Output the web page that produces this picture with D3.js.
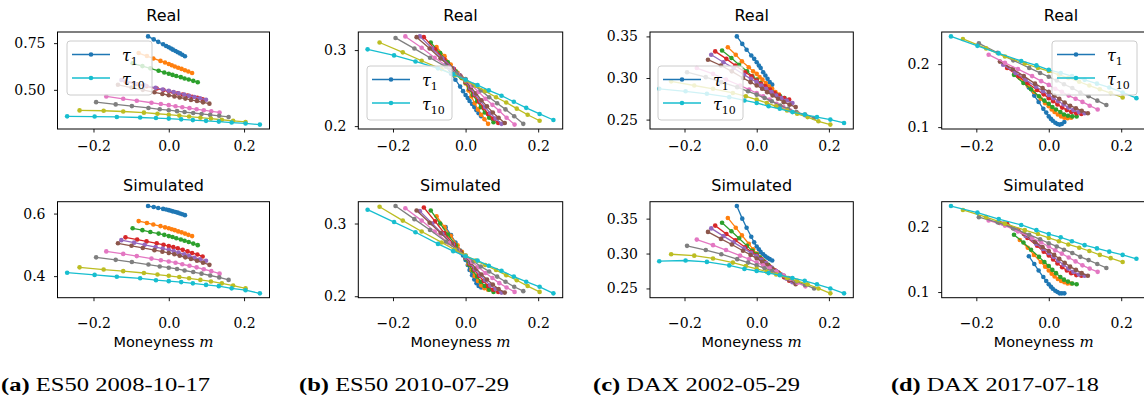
<!DOCTYPE html>
<html>
<head>
<meta charset="utf-8">
<script src="https://cdn.jsdelivr.net/npm/d3@7"></script>
<style>
  body { margin: 0; background: #fff; }
</style>
</head>
<body>
<svg id="fig" width="1144" height="411"></svg>
<script>
// moneyness grid, one row per maturity tau1..tau10
var moneyness = [
  [-0.055, -0.040, -0.028, -0.015, -0.007, 0, 0.006, 0.011, 0.018, 0.024, 0.030, 0.036, 0.043],
  [-0.080, -0.058, -0.041, -0.022, -0.010, 0, 0.008, 0.016, 0.025, 0.034, 0.043, 0.052, 0.062],
  [-0.096, -0.070, -0.049, -0.027, -0.012, 0, 0.010, 0.020, 0.032, 0.042, 0.053, 0.065, 0.077],
  [-0.115, -0.084, -0.059, -0.032, -0.014, 0, 0.012, 0.024, 0.037, 0.050, 0.062, 0.076, 0.090],
  [-0.126, -0.092, -0.064, -0.035, -0.016, 0, 0.013, 0.026, 0.041, 0.054, 0.068, 0.083, 0.099],
  [-0.135, -0.099, -0.069, -0.038, -0.017, 0, 0.015, 0.029, 0.044, 0.059, 0.075, 0.091, 0.108],
  [-0.166, -0.121, -0.085, -0.046, -0.021, 0, 0.018, 0.036, 0.055, 0.074, 0.093, 0.113, 0.135],
  [-0.193, -0.141, -0.098, -0.054, -0.024, 0, 0.022, 0.042, 0.065, 0.087, 0.110, 0.134, 0.159],
  [-0.237, -0.173, -0.121, -0.066, -0.030, 0, 0.028, 0.054, 0.084, 0.112, 0.141, 0.171, 0.204],
  [-0.270, -0.197, -0.138, -0.076, -0.034, 0, 0.033, 0.064, 0.099, 0.133, 0.167, 0.204, 0.242]
];

// implied vols, (a) ES50 2008-10-17
var ivRealA = [
  [0.786, 0.770, 0.757, 0.744, 0.735, 0.728, 0.721, 0.715, 0.708, 0.701, 0.695, 0.688, 0.680],
  [0.697, 0.681, 0.668, 0.655, 0.646, 0.638, 0.632, 0.625, 0.618, 0.612, 0.605, 0.598, 0.590],
  [0.642, 0.627, 0.615, 0.602, 0.593, 0.586, 0.580, 0.574, 0.568, 0.561, 0.555, 0.548, 0.541],
  [0.544, 0.530, 0.519, 0.507, 0.499, 0.492, 0.487, 0.481, 0.475, 0.469, 0.463, 0.457, 0.450],
  [0.553, 0.537, 0.524, 0.511, 0.502, 0.495, 0.488, 0.482, 0.475, 0.468, 0.462, 0.455, 0.447],
  [0.527, 0.512, 0.500, 0.487, 0.478, 0.471, 0.465, 0.459, 0.453, 0.446, 0.440, 0.433, 0.426],
  [0.465, 0.452, 0.442, 0.431, 0.424, 0.418, 0.412, 0.407, 0.402, 0.396, 0.391, 0.385, 0.379],
  [0.434, 0.422, 0.413, 0.403, 0.396, 0.391, 0.386, 0.381, 0.376, 0.371, 0.366, 0.361, 0.355],
  [0.390, 0.388, 0.384, 0.378, 0.372, 0.367, 0.362, 0.357, 0.351, 0.346, 0.340, 0.334, 0.328],
  [0.358, 0.357, 0.355, 0.352, 0.349, 0.346, 0.342, 0.338, 0.334, 0.330, 0.325, 0.320, 0.314]
];
var ivSimA = [
  [0.624, 0.621, 0.618, 0.615, 0.613, 0.611, 0.609, 0.607, 0.605, 0.603, 0.600, 0.598, 0.595],
  [0.576, 0.570, 0.565, 0.560, 0.556, 0.553, 0.550, 0.547, 0.543, 0.540, 0.536, 0.532, 0.528],
  [0.553, 0.547, 0.541, 0.536, 0.532, 0.528, 0.525, 0.521, 0.517, 0.513, 0.509, 0.504, 0.499],
  [0.524, 0.517, 0.511, 0.505, 0.500, 0.496, 0.493, 0.489, 0.484, 0.479, 0.474, 0.469, 0.463],
  [0.515, 0.507, 0.500, 0.493, 0.488, 0.484, 0.480, 0.475, 0.470, 0.465, 0.459, 0.454, 0.449],
  [0.505, 0.497, 0.490, 0.483, 0.478, 0.474, 0.470, 0.465, 0.460, 0.455, 0.449, 0.443, 0.436],
  [0.479, 0.471, 0.464, 0.456, 0.451, 0.447, 0.443, 0.438, 0.433, 0.428, 0.422, 0.416, 0.408],
  [0.460, 0.452, 0.445, 0.437, 0.431, 0.427, 0.423, 0.418, 0.413, 0.408, 0.402, 0.396, 0.388],
  [0.428, 0.421, 0.416, 0.410, 0.405, 0.401, 0.397, 0.393, 0.388, 0.383, 0.377, 0.370, 0.361],
  [0.411, 0.404, 0.398, 0.393, 0.387, 0.384, 0.381, 0.377, 0.372, 0.368, 0.361, 0.355, 0.345]
];

// (b) ES50 2010-07-29
var ivRealB = [
  [0.280, 0.269, 0.261, 0.252, 0.246, 0.241, 0.237, 0.233, 0.229, 0.225, 0.221, 0.217, 0.213],
  [0.304, 0.292, 0.281, 0.270, 0.263, 0.256, 0.247, 0.239, 0.230, 0.222, 0.215, 0.209, 0.203],
  [0.310, 0.296, 0.284, 0.272, 0.264, 0.257, 0.249, 0.241, 0.233, 0.225, 0.218, 0.211, 0.205],
  [0.317, 0.301, 0.288, 0.275, 0.266, 0.258, 0.249, 0.241, 0.232, 0.224, 0.216, 0.210, 0.204],
  [0.318, 0.302, 0.289, 0.276, 0.267, 0.259, 0.250, 0.242, 0.233, 0.225, 0.217, 0.210, 0.203],
  [0.317, 0.302, 0.289, 0.276, 0.267, 0.260, 0.251, 0.243, 0.234, 0.226, 0.218, 0.211, 0.204],
  [0.318, 0.303, 0.290, 0.277, 0.268, 0.261, 0.253, 0.245, 0.236, 0.228, 0.220, 0.211, 0.202],
  [0.316, 0.302, 0.290, 0.278, 0.269, 0.262, 0.254, 0.247, 0.238, 0.230, 0.222, 0.213, 0.203],
  [0.310, 0.297, 0.286, 0.275, 0.267, 0.260, 0.253, 0.246, 0.238, 0.231, 0.223, 0.215, 0.207],
  [0.301, 0.293, 0.285, 0.276, 0.268, 0.261, 0.254, 0.247, 0.240, 0.232, 0.224, 0.216, 0.208]
];
var ivSimB = [
  [0.295, 0.284, 0.274, 0.263, 0.256, 0.250, 0.243, 0.236, 0.229, 0.223, 0.218, 0.214, 0.212],
  [0.310, 0.295, 0.283, 0.270, 0.261, 0.253, 0.244, 0.236, 0.228, 0.221, 0.215, 0.211, 0.209],
  [0.318, 0.300, 0.285, 0.270, 0.260, 0.252, 0.243, 0.235, 0.227, 0.220, 0.214, 0.209, 0.206],
  [0.322, 0.303, 0.287, 0.271, 0.261, 0.253, 0.244, 0.236, 0.228, 0.221, 0.214, 0.209, 0.206],
  [0.317, 0.300, 0.286, 0.271, 0.261, 0.253, 0.245, 0.237, 0.229, 0.222, 0.215, 0.210, 0.205],
  [0.318, 0.301, 0.287, 0.272, 0.262, 0.254, 0.246, 0.238, 0.230, 0.223, 0.216, 0.210, 0.205],
  [0.321, 0.304, 0.289, 0.273, 0.263, 0.255, 0.247, 0.240, 0.232, 0.225, 0.218, 0.212, 0.206],
  [0.324, 0.306, 0.291, 0.275, 0.264, 0.256, 0.248, 0.241, 0.234, 0.227, 0.220, 0.213, 0.207],
  [0.323, 0.304, 0.289, 0.274, 0.264, 0.256, 0.249, 0.243, 0.236, 0.229, 0.222, 0.214, 0.206],
  [0.319, 0.302, 0.288, 0.272, 0.262, 0.255, 0.249, 0.242, 0.235, 0.227, 0.220, 0.213, 0.204]
];

// (c) DAX 2002-05-29
var ivRealC = [
  [0.350, 0.341, 0.334, 0.327, 0.323, 0.319, 0.315, 0.312, 0.307, 0.303, 0.299, 0.295, 0.292],
  [0.337, 0.328, 0.320, 0.313, 0.308, 0.305, 0.301, 0.298, 0.294, 0.290, 0.287, 0.283, 0.280],
  [0.333, 0.324, 0.316, 0.308, 0.302, 0.298, 0.294, 0.290, 0.286, 0.283, 0.280, 0.278, 0.276],
  [0.332, 0.323, 0.315, 0.307, 0.302, 0.297, 0.293, 0.290, 0.286, 0.282, 0.279, 0.276, 0.274],
  [0.328, 0.319, 0.312, 0.304, 0.299, 0.295, 0.291, 0.287, 0.283, 0.279, 0.276, 0.273, 0.270],
  [0.322, 0.315, 0.308, 0.300, 0.295, 0.291, 0.287, 0.283, 0.279, 0.275, 0.271, 0.268, 0.265],
  [0.312, 0.305, 0.298, 0.291, 0.286, 0.282, 0.278, 0.274, 0.269, 0.265, 0.261, 0.258, 0.255],
  [0.307, 0.301, 0.295, 0.289, 0.284, 0.280, 0.276, 0.272, 0.267, 0.263, 0.259, 0.256, 0.252],
  [0.296, 0.291, 0.287, 0.282, 0.278, 0.274, 0.270, 0.266, 0.261, 0.257, 0.253, 0.248, 0.244],
  [0.287, 0.284, 0.281, 0.277, 0.273, 0.270, 0.266, 0.263, 0.259, 0.256, 0.253, 0.250, 0.246]
];
var ivSimC = [
  [0.368, 0.350, 0.337, 0.324, 0.316, 0.310, 0.306, 0.302, 0.299, 0.296, 0.294, 0.292, 0.290],
  [0.351, 0.337, 0.326, 0.314, 0.306, 0.300, 0.295, 0.291, 0.286, 0.282, 0.278, 0.275, 0.272],
  [0.344, 0.332, 0.322, 0.311, 0.304, 0.299, 0.294, 0.289, 0.284, 0.279, 0.275, 0.270, 0.266],
  [0.340, 0.328, 0.319, 0.309, 0.302, 0.297, 0.292, 0.287, 0.281, 0.276, 0.271, 0.266, 0.261],
  [0.336, 0.325, 0.316, 0.307, 0.301, 0.296, 0.291, 0.286, 0.280, 0.275, 0.270, 0.264, 0.259],
  [0.331, 0.321, 0.313, 0.304, 0.298, 0.293, 0.288, 0.284, 0.278, 0.273, 0.268, 0.262, 0.256],
  [0.320, 0.312, 0.305, 0.297, 0.292, 0.287, 0.283, 0.279, 0.274, 0.269, 0.264, 0.258, 0.253],
  [0.311, 0.305, 0.299, 0.292, 0.287, 0.283, 0.279, 0.275, 0.270, 0.265, 0.260, 0.255, 0.250],
  [0.299, 0.297, 0.293, 0.287, 0.282, 0.278, 0.274, 0.270, 0.265, 0.261, 0.256, 0.250, 0.243],
  [0.289, 0.290, 0.288, 0.283, 0.278, 0.275, 0.272, 0.269, 0.265, 0.261, 0.256, 0.250, 0.243]
];

// (d) DAX 2017-07-18
var ivRealD = [
  [0.163, 0.150, 0.140, 0.129, 0.123, 0.117, 0.113, 0.110, 0.107, 0.105, 0.104, 0.105, 0.108],
  [0.178, 0.166, 0.156, 0.145, 0.138, 0.133, 0.128, 0.124, 0.120, 0.117, 0.115, 0.114, 0.115],
  [0.183, 0.170, 0.160, 0.149, 0.142, 0.137, 0.132, 0.128, 0.124, 0.120, 0.118, 0.117, 0.117],
  [0.194, 0.181, 0.170, 0.159, 0.152, 0.146, 0.141, 0.136, 0.131, 0.127, 0.124, 0.122, 0.121],
  [0.199, 0.186, 0.175, 0.164, 0.157, 0.151, 0.146, 0.141, 0.136, 0.131, 0.127, 0.124, 0.122],
  [0.204, 0.192, 0.181, 0.169, 0.162, 0.156, 0.150, 0.145, 0.139, 0.134, 0.130, 0.126, 0.122],
  [0.215, 0.202, 0.192, 0.181, 0.173, 0.167, 0.161, 0.156, 0.150, 0.145, 0.140, 0.134, 0.128],
  [0.233, 0.218, 0.206, 0.194, 0.186, 0.180, 0.174, 0.168, 0.162, 0.155, 0.149, 0.142, 0.135],
  [0.240, 0.225, 0.212, 0.201, 0.194, 0.189, 0.183, 0.178, 0.172, 0.166, 0.160, 0.154, 0.147],
  [0.244, 0.229, 0.217, 0.205, 0.198, 0.191, 0.186, 0.181, 0.175, 0.169, 0.163, 0.155, 0.146]
];
var ivSimD = [
  [0.155, 0.143, 0.133, 0.123, 0.117, 0.112, 0.108, 0.105, 0.102, 0.100, 0.098, 0.098, 0.098],
  [0.180, 0.168, 0.157, 0.146, 0.139, 0.133, 0.128, 0.124, 0.120, 0.117, 0.115, 0.113, 0.113],
  [0.188, 0.176, 0.165, 0.154, 0.146, 0.140, 0.134, 0.129, 0.123, 0.119, 0.116, 0.113, 0.112],
  [0.205, 0.195, 0.183, 0.171, 0.162, 0.156, 0.150, 0.144, 0.138, 0.133, 0.129, 0.126, 0.125],
  [0.205, 0.196, 0.186, 0.174, 0.166, 0.160, 0.154, 0.148, 0.142, 0.136, 0.131, 0.127, 0.125],
  [0.206, 0.198, 0.189, 0.177, 0.169, 0.163, 0.157, 0.151, 0.145, 0.139, 0.134, 0.129, 0.125],
  [0.210, 0.202, 0.193, 0.183, 0.176, 0.170, 0.164, 0.159, 0.153, 0.147, 0.141, 0.136, 0.131],
  [0.215, 0.207, 0.198, 0.188, 0.181, 0.175, 0.170, 0.165, 0.160, 0.154, 0.149, 0.143, 0.137],
  [0.226, 0.215, 0.205, 0.195, 0.189, 0.183, 0.178, 0.173, 0.168, 0.163, 0.157, 0.152, 0.146],
  [0.232, 0.222, 0.212, 0.203, 0.195, 0.189, 0.184, 0.178, 0.172, 0.167, 0.162, 0.157, 0.151]
];

var xTickVals = [-0.2, 0.0, 0.2];
var xTickLabels = ["\u22120.2", "0.0", "0.2"];
var yTicksA = [[0.5, 0.75], [0.4, 0.6]];
var yLabelsA = [["0.50", "0.75"], ["0.4", "0.6"]];
var yTicksB = [[0.2, 0.3], [0.2, 0.3]];
var yLabelsB = [["0.2", "0.3"], ["0.2", "0.3"]];
var yTicksC = [[0.25, 0.30, 0.35], [0.25, 0.30, 0.35]];
var yLabelsC = [["0.25", "0.30", "0.35"], ["0.25", "0.30", "0.35"]];
var yTicksD = [[0.1, 0.2], [0.1, 0.2]];
var yLabelsD = [["0.1", "0.2"], ["0.1", "0.2"]];
var rowTitles = ["Real", "Simulated"];
var legendSubs = ["1", "10"];
var captionTags = ["(a)", "(b)", "(c)", "(d)"];
var captionTexts = ["ES50 2008-10-17", "ES50 2010-07-29", "DAX 2002-05-29", "DAX 2017-07-18"];

var colors = d3.schemeCategory10;
var svg = d3.select("#fig");
var serif = "'DejaVu Serif', serif";
var capSerif = "'Liberation Serif', serif";
var sans = "'DejaVu Sans', sans-serif";

var rows = [{top: 32, bottom: 129, tickBase: 22}, {top: 201.7, bottom: 297.7, tickBase: 30}];

var cols = [
  {left: 57.5,  right: 269.5,  titles: [163.5, 163.5],  legend: [67, 41],   cap: 1,   capW: 209, data: [ivRealA, ivSimA], ticks: yTicksA, labels: yLabelsA},
  {left: 358.3, right: 562.7,  titles: [460.5, 460.5],  legend: [367, 66],  cap: 299, capW: 210, data: [ivRealB, ivSimB], ticks: yTicksB, labels: yLabelsB},
  {left: 650,   right: 853.3,  titles: [751.7, 751.7],  legend: [658, 66],  cap: 593, capW: 207, data: [ivRealC, ivSimC], ticks: yTicksC, labels: yLabelsC},
  {left: 941.7, right: 1145.7, titles: [1061, 1043.7],  legend: [1052, 41], cap: 891, capW: 208, data: [ivRealD, ivSimD], ticks: yTicksD, labels: yLabelsD}
];

function drawPanel(col, r) {
  var row = rows[r];
  var series = col.data[r];
  var xe = d3.extent(moneyness.flat()), ye = d3.extent(series.flat());
  var px = (xe[1] - xe[0]) * 0.05, py = (ye[1] - ye[0]) * 0.05;
  var x = d3.scaleLinear().domain([xe[0] - px, xe[1] + px]).range([col.left, col.right]);
  var y = d3.scaleLinear().domain([ye[0] - py, ye[1] + py]).range([row.bottom, row.top]);
  var g = svg.append("g");

  var line = d3.line().x(function(d){ return x(d[0]); }).y(function(d){ return y(d[1]); });
  series.forEach(function(vals, i){
    var pts = moneyness[i].map(function(m, j){ return [m, vals[j]]; });
    var s = g.append("g");
    s.append("path").attr("d", line(pts)).attr("fill", "none")
      .attr("stroke", colors[i]).attr("stroke-width", 1.3);
    s.selectAll("circle").data(pts).enter().append("circle")
      .attr("cx", function(d){ return x(d[0]); })
      .attr("cy", function(d){ return y(d[1]); })
      .attr("r", 2.3).attr("fill", colors[i]);
  });

  // axes
  var xa = g.append("g").attr("transform", "translate(0," + row.bottom + ")")
    .call(d3.axisBottom(x).tickValues(xTickVals).tickSize(3.5)
      .tickFormat(function(d, i){ return xTickLabels[i]; }));
  xa.select(".domain").remove();
  xa.selectAll("text").attr("y", row.tickBase).attr("dy", 0)
    .style("font-family", serif).style("font-size", "14px").attr("fill", "#000");

  var ya = g.append("g").attr("transform", "translate(" + col.left + ",0)")
    .call(d3.axisLeft(y).tickValues(col.ticks[r]).tickSize(3.5).tickPadding(8.5)
      .tickFormat(function(d, i){ return col.labels[r][i]; }));
  ya.select(".domain").remove();
  ya.selectAll("text").style("font-family", serif).style("font-size", "14px").attr("fill", "#000");
  g.selectAll(".tick line").attr("stroke", "#000").attr("stroke-width", 0.9);

  g.append("rect").attr("x", col.left).attr("y", row.top)
    .attr("width", col.right - col.left).attr("height", row.bottom - row.top)
    .attr("fill", "none").attr("stroke", "#000").attr("stroke-width", 1);

  g.append("text").attr("x", col.titles[r]).attr("y", row.top - 11)
    .attr("text-anchor", "middle").style("font-family", sans).style("font-size", "16px")
    .text(rowTitles[r]);

  if (r === 0) drawLegend(col.legend[0], col.legend[1]);
  if (r === 1) {
    var xl = g.append("text").attr("x", (col.left + col.right) / 2).attr("y", 347)
      .attr("text-anchor", "middle").style("font-family", sans).style("font-size", "14.5px");
    xl.append("tspan").text("Moneyness ");
    xl.append("tspan").style("font-family", serif).style("font-style", "italic").style("font-size", "15px").text("m");
  }
}

function drawLegend(lx, ly) {
  var lg = svg.append("g").attr("transform", "translate(" + lx + "," + ly + ")");
  lg.append("rect").attr("width", 85).attr("height", 54).attr("rx", 3)
    .attr("fill", "#fff").attr("fill-opacity", 0.8).attr("stroke", "#cccccc").attr("stroke-width", 1);
  [0, 9].forEach(function(ci, k){
    var yy = 13.5 + k * 23.5;
    lg.append("line").attr("x1", 5).attr("x2", 43).attr("y1", yy).attr("y2", yy)
      .attr("stroke", colors[ci]).attr("stroke-width", 1.3);
    lg.append("circle").attr("cx", 24).attr("cy", yy).attr("r", 2.3).attr("fill", colors[ci]);
    var t = lg.append("text").attr("x", 55).attr("y", yy + 6.5).style("font-family", serif);
    t.append("tspan").style("font-style", "italic").style("font-size", "16px").text("\u03c4");
    t.append("tspan").attr("dy", 4).style("font-size", "11px").text(legendSubs[k]);
  });
}

cols.forEach(function(col, c){
  drawPanel(col, 0);
  drawPanel(col, 1);
  var cap = svg.append("text").attr("x", col.cap).attr("y", 391)
    .attr("textLength", col.capW).attr("lengthAdjust", "spacingAndGlyphs")
    .style("font-family", capSerif).style("font-size", "18.5px");
  cap.append("tspan").style("font-weight", "bold").text(captionTags[c]);
  cap.append("tspan").text(" " + captionTexts[c]);
});
</script>
</body>
</html>
